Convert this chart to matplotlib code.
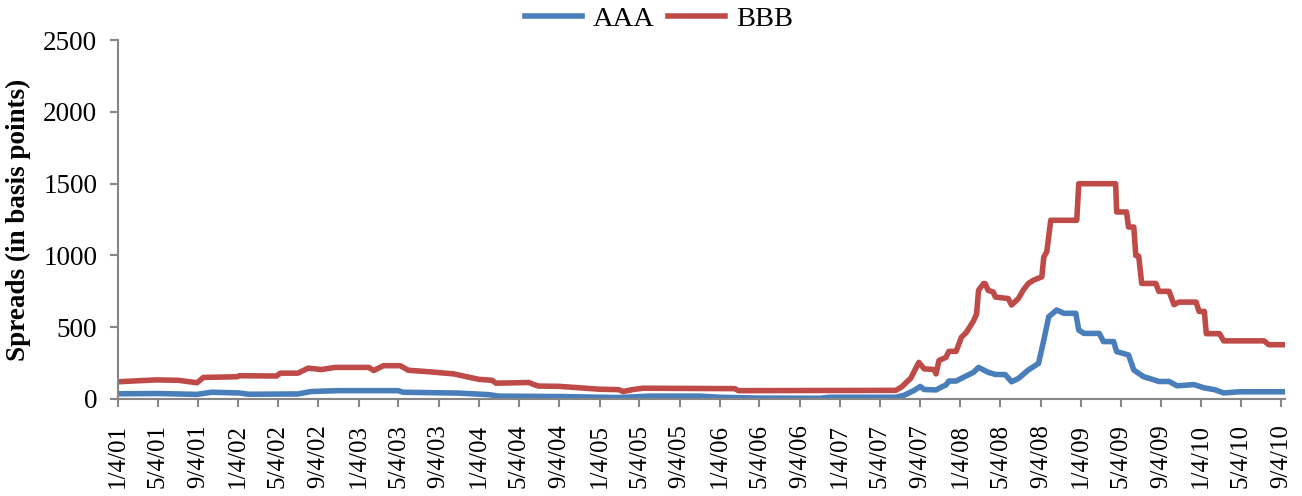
import numpy as np
import pandas as pd
import matplotlib
matplotlib.use('Agg')
import matplotlib.pyplot as plt

rcParams = {
        'font.family': 'Liberation Serif',
        'font.size': 19.5,
        }
plt.rcParams.update(rcParams)

bbb_dates = ['2001-01-04','2001-04-30','2001-07-07','2001-09-01','2001-09-20','2002-01-01',
             '2002-01-06','2002-04-30','2002-05-12','2002-07-04','2002-08-04','2002-09-13',
             '2002-10-25','2003-02-04','2003-02-19','2003-03-20','2003-05-10','2003-06-04',
             '2003-08-04','2003-10-19','2003-12-04','2004-01-04','2004-02-13','2004-02-25',
             '2004-06-04','2004-06-19','2004-07-04','2004-09-04','2004-11-04','2005-01-04',
             '2005-03-04','2005-03-16','2005-04-16','2005-05-16','2006-02-19','2006-03-01',
             '2007-06-22','2007-07-10','2007-08-06','2007-08-31','2007-09-16','2007-10-16',
             '2007-10-22','2007-10-31','2007-11-21','2007-11-30','2007-12-22','2008-01-07',
             '2008-01-22','2008-02-13','2008-02-22','2008-02-28','2008-03-14','2008-03-19',
             '2008-03-28','2008-04-13','2008-04-19','2008-05-28','2008-06-07','2008-06-28',
             '2008-07-13','2008-07-28','2008-08-13','2008-09-07','2008-09-13','2008-09-22',
             '2008-10-04','2008-12-22','2008-12-28','2009-04-19','2009-04-22','2009-05-22',
             '2009-05-28','2009-06-13','2009-06-19','2009-06-28','2009-07-07','2009-08-19',
             '2009-08-28','2009-09-28','2009-10-13','2009-10-28','2009-12-19','2009-12-28',
             '2010-01-13','2010-01-19','2010-02-28','2010-03-13','2010-07-13','2010-07-28',
             '2010-09-13']
bbb_values = [120, 133, 130, 113, 150, 155,
              162, 160, 180, 180, 215, 205,
              220, 220, 198, 232, 232, 200,
              190, 175, 152, 137, 130, 110,
              115, 100, 90, 88, 78, 68,
              65, 52, 66, 75, 72, 58,
              60, 85, 144, 255, 210, 205,
              175, 268, 290, 332, 332, 430,
              464, 545, 592, 757, 804, 804,
              757, 745, 710, 700, 655, 700,
              760, 805, 828, 851, 990, 1025,
              1245, 1245, 1500, 1500, 1303, 1303,
              1198, 1198, 1000, 994, 805, 805,
              750, 750, 657, 675, 675, 610,
              610, 455, 455, 405, 405, 378,
              378]

aaa_dates = ['2001-01-04','2001-05-04','2001-09-01','2001-10-15','2002-01-06','2002-02-04',
             '2002-07-04','2002-08-13','2002-11-04','2003-05-04','2003-05-19','2003-11-04',
             '2004-02-04','2004-03-04','2004-09-04','2005-03-04','2005-06-04','2005-11-04',
             '2006-01-04','2006-05-04','2006-11-04','2006-12-04','2007-06-22','2007-07-16',
             '2007-08-16','2007-09-04','2007-09-16','2007-10-22','2007-11-10','2007-11-21',
             '2007-11-30','2007-12-22','2008-01-13','2008-02-13','2008-02-28','2008-03-28',
             '2008-04-19','2008-05-19','2008-06-07','2008-06-28','2008-07-28','2008-08-28',
             '2008-09-13','2008-09-28','2008-10-22','2008-11-13','2008-12-19','2008-12-28',
             '2009-01-13','2009-02-28','2009-03-13','2009-04-13','2009-04-22','2009-05-28',
             '2009-06-13','2009-07-13','2009-07-28','2009-08-28','2009-09-28','2009-10-22',
             '2009-12-13','2010-01-13','2010-02-13','2010-03-13','2010-04-28','2010-09-13']
aaa_values = [36, 38, 32, 47, 42, 33,
              35, 52, 58, 58, 47, 41,
              30, 20, 17, 10, 20, 20,
              12, 6, 5, 12, 12, 25,
              59, 87, 66, 63, 86, 97,
              125, 125, 151, 186, 220, 186,
              171, 170, 120, 143, 202, 248,
              411, 573, 620, 597, 597, 480,
              457, 457, 400, 400, 330, 307,
              202, 155, 145, 122, 122, 92,
              100, 77, 65, 42, 50, 50]

tick_dates = pd.date_range('2001-01-04', periods=30, freq=pd.DateOffset(months=4))
tick_labels = [f'{d.month}/{d.day}/{d:%y}' for d in tick_dates]

fig = plt.figure(figsize=(13.02, 4.96), dpi=100)
ax = fig.add_axes([0.0906, 0.1956, 0.8964, 0.7234])
ax.plot(pd.to_datetime(aaa_dates), aaa_values, color='#4A7EBB', lw=4, label='AAA',
        solid_joinstyle='round')
ax.plot(pd.to_datetime(bbb_dates), bbb_values, color='#BE4B48', lw=4, label='BBB',
        solid_joinstyle='round')

ax.set_ylim(0, 2500)
ax.set_yticks(np.arange(0, 2501, 500))
ax.set_xlim(pd.Timestamp('2001-01-04'), pd.Timestamp('2010-09-15'))
ax.set_xticks(tick_dates)
ax.set_xticklabels(tick_labels, rotation=90, fontsize=18)
for s in ['top', 'right']:
    ax.spines[s].set_visible(False)
for s in ['left', 'bottom']:
    ax.spines[s].set_color('#868686')
    ax.spines[s].set_linewidth(1.5)
ax.tick_params(color='#868686', width=1.5, length=6)
ax.tick_params(axis='x', pad=12)
ax.tick_params(axis='y', pad=9)
ax.set_ylabel('Spreads (in basis points)', fontweight='bold', fontsize=19.5, labelpad=9)
fig.legend(*ax.get_legend_handles_labels(), loc='upper center',
           bbox_to_anchor=(0.506, 1.04), ncol=2, frameon=False,
           fontsize=20.5, handlelength=2.0, columnspacing=0.45, handletextpad=0.4)

fig.savefig('out.png', dpi=100)
